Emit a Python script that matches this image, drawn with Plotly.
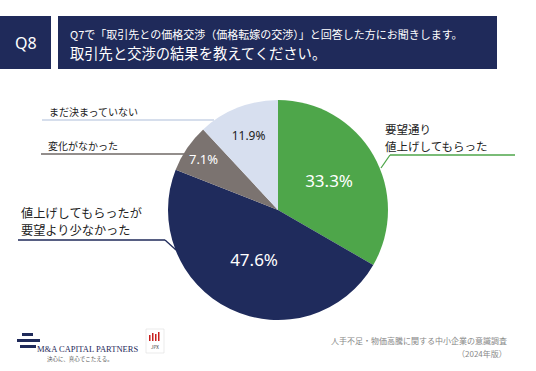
import plotly.graph_objects as go

categories = ["要望通り値上げしてもらった", "値上げしてもらったが要望より少なかった", "変化がなかった", "まだ決まっていない"]
values = [33.3, 47.6, 7.1, 11.9]
colors = ["#4ea64a", "#1f2b5c", "#7b7370", "#d7dfef"]
text_colors = ["white", "white", "white", "#222222"]
text_sizes = [17, 17, 13, 12]

W, H = 536, 371
NAVY = "#1f2a5a"
FONT = "Noto Sans CJK JP"

def px(x):
    return x / W

def py(y):
    return 1 - y / H

cx, cy, r = 278, 210, 110

fig = go.Figure(go.Pie(
    labels=categories, values=values, sort=False, direction="clockwise", rotation=0,
    marker=dict(colors=colors, line=dict(width=0)),
    texttemplate="%{value:.1f}%", textposition="inside", insidetextorientation="horizontal",
    textfont=dict(color=text_colors, size=text_sizes, family="Noto Sans, sans-serif"),
    domain=dict(x=[px(cx - r), px(cx + r)], y=[py(cy + r), py(cy - r)]),
    showlegend=False, hoverinfo="label+value",
))

shapes = []
# header boxes
shapes.append(dict(type="rect", xref="paper", yref="paper", x0=px(0), x1=px(51), y0=py(69), y1=py(16),
                   fillcolor=NAVY, line=dict(width=0), layer="below"))
shapes.append(dict(type="rect", xref="paper", yref="paper", x0=px(58), x1=px(497), y0=py(69), y1=py(16),
                   fillcolor=NAVY, line=dict(width=0), layer="below"))

def line(x0, y0, x1, y1, color):
    shapes.append(dict(type="line", xref="paper", yref="paper", x0=px(x0), y0=py(y0), x1=px(x1), y1=py(y1),
                       line=dict(color=color, width=1.3), layer="below"))

line(42, 120, 214, 120, "#c9d3e6")
line(41, 154, 186, 154, "#6f6866")
line(18, 240, 165, 240, NAVY)
line(165, 240, 176, 250, NAVY)
line(390, 155, 515, 155, "#4ea64a")
line(390, 155, 381, 168, "#4ea64a")

# logo stripes
for (x0, x1, y0, y1) in [(22, 33, 333, 336), (17, 40, 339, 342), (20, 36, 345, 348)]:
    shapes.append(dict(type="rect", xref="paper", yref="paper", x0=px(x0), x1=px(x1), y0=py(y1), y1=py(y0),
                       fillcolor=NAVY, line=dict(width=0)))
# JPX box
shapes.append(dict(type="rect", xref="paper", yref="paper", x0=px(146), x1=px(164), y0=py(353), y1=py(329),
                   fillcolor="white", line=dict(color="#dddddd", width=0.6)))
for i, h in enumerate([6, 8, 7, 9]):
    shapes.append(dict(type="rect", xref="paper", yref="paper", x0=px(149 + i * 3), x1=px(150.5 + i * 3),
                       y0=py(341), y1=py(341 - h), fillcolor="#c8201e", line=dict(width=0)))

annotations = []

def text(x, y, s, size, color="#222222", xanchor="left", yanchor="middle", family=FONT, align="left"):
    annotations.append(dict(x=px(x), y=py(y), xref="paper", yref="paper", text=s, showarrow=False,
                            xanchor=xanchor, yanchor=yanchor, align=align, borderpad=0,
                            font=dict(size=size, color=color, family=family)))

text(25.5, 43, "Q8", 16, "white", xanchor="center", family="Noto Sans, sans-serif")
text(69, 34, "Q7で「取引先との価格交渉（価格転嫁の交渉）」と回答した方にお聞きします。", 11, "white")
text(69, 52, "取引先と交渉の結果を教えてください。", 14.3, "white")

text(48, 112, "まだ決まっていない", 10)
text(47, 145, "変化がなかった", 10)
text(20, 212.5, "値上げしてもらったが", 12.2)
text(20, 230, "要望より少なかった", 12.2)
text(384, 129, "要望通り", 11.5)
text(384, 146, "値上げしてもらった", 11.5)

text(36, 349, "M&A CAPITAL PARTNERS", 8.5, NAVY, family="Liberation Serif, serif")
text(46, 359, "決心に、真心でこたえる。", 5.5, "#555555")
text(155, 347, "JPX", 4.5, "#333333", xanchor="center")
text(508, 340, "人手不足・物価高騰に関する中小企業の意識調査", 8, "#888888", xanchor="right")
text(508, 353, "（2024年版）", 8, "#888888", xanchor="right")

fig.update_layout(
    width=W, height=H, margin=dict(l=0, r=0, t=0, b=0),
    paper_bgcolor="white", plot_bgcolor="white",
    shapes=shapes, annotations=annotations,
    font=dict(family=FONT),
)

fig.write_html("out.html", config={"displayModeBar": False},
               post_script="document.body.style.margin='0';document.body.style.overflow='hidden';")
